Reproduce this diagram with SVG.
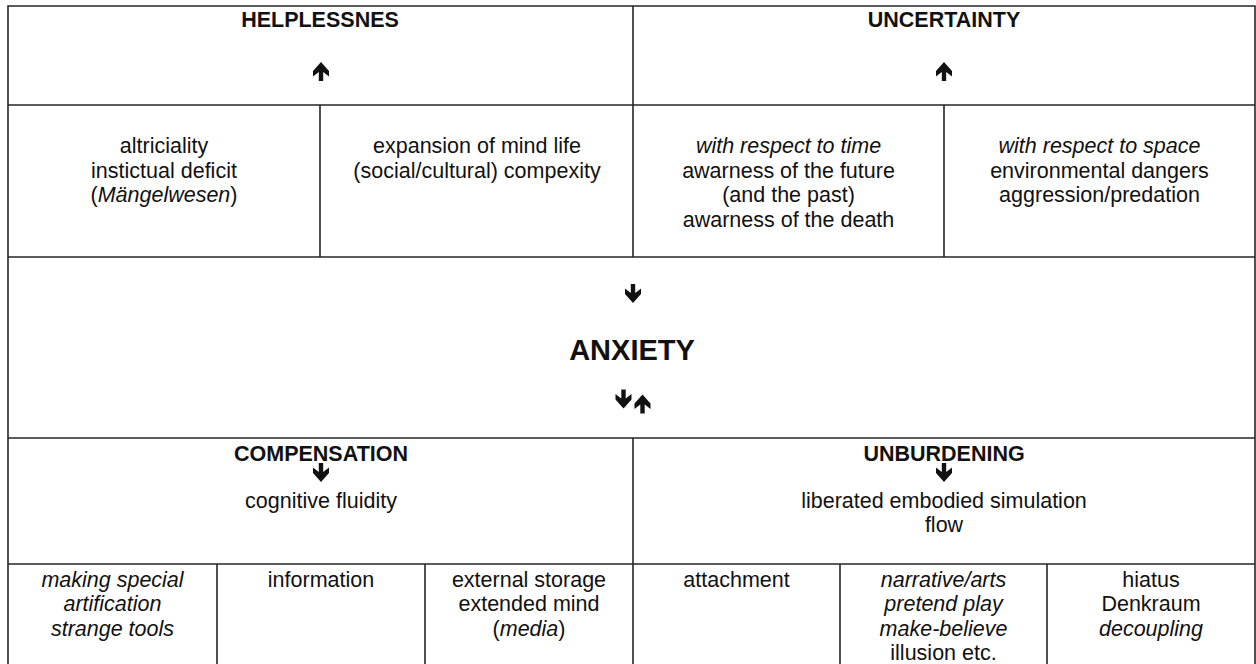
<svg xmlns="http://www.w3.org/2000/svg" width="1256" height="664" viewBox="0 0 1256 664">
<style>
  .ln { stroke: #262626; stroke-width: 1.6; fill: none; }
  text { font-family: "Liberation Sans", Arial, sans-serif; font-size: 21.5px; fill: #111; text-anchor: middle; }
  .b { font-weight: bold; }
  .big { font-weight: bold; font-size: 29px; }
  .i { font-style: italic; }
  .arr { fill: #111; }
</style>
<defs>
  <path id="down" class="arr" d="M -2.2 0 H 2.2 V 9 L 8 4.5 V 10 L 0 19 L -8 10 V 4.5 L -2.2 9 Z"/>
</defs>
<rect width="1256" height="664" fill="#fff"/>

<g id="grid">
  <path class="ln" d="M 8 664 V 6 H 1255 V 664"/>
  <path class="ln" d="M 8 105 H 1255 M 8 257 H 1255 M 8 438 H 1255 M 8 564 H 1255"/>
  <path class="ln" d="M 633 6 V 257 M 320 105 V 257 M 944 105 V 257"/>
  <path class="ln" d="M 633 438 V 664 M 217 564 V 664 M 425 564 V 664 M 840 564 V 664 M 1047 564 V 664"/>
</g>

<g id="helplessnes"><text class="b" x="320" y="27">HELPLESSNES</text></g>
<g id="uncertainty"><text class="b" x="944" y="27">UNCERTAINTY</text></g>

<g id="altriciality">
  <text x="164" y="153">altriciality</text>
  <text x="164" y="177.5">instictual deficit</text>
  <text x="164" y="202">(<tspan class="i">Mängelwesen</tspan>)</text>
</g>
<g id="expansion">
  <text x="477" y="153">expansion of mind life</text>
  <text x="477" y="177.5">(social/cultural) compexity</text>
</g>
<g id="time">
  <text class="i" x="788.5" y="153">with respect to time</text>
  <text x="788.5" y="177.5">awarness of the future</text>
  <text x="788.5" y="202">(and the past)</text>
  <text x="788.5" y="226.5">awarness of the death</text>
</g>
<g id="space">
  <text class="i" x="1099.5" y="153">with respect to space</text>
  <text x="1099.5" y="177.5">environmental dangers</text>
  <text x="1099.5" y="202">aggression/predation</text>
</g>

<g id="anxiety"><text class="big" x="632" y="360">ANXIETY</text></g>

<g id="compensation">
  <text class="b" x="321" y="460.5">COMPENSATION</text>
  <text x="321" y="508">cognitive fluidity</text>
</g>
<g id="unburdening">
  <text class="b" x="944" y="460.5">UNBURDENING</text>
  <text x="944" y="508">liberated embodied simulation</text>
  <text x="944" y="532">flow</text>
</g>

<g id="making-special">
  <text class="i" x="112.5" y="586.5">making special</text>
  <text class="i" x="112.5" y="611">artification</text>
  <text class="i" x="112.5" y="635.5">strange tools</text>
</g>
<g id="information"><text x="321" y="586.5">information</text></g>
<g id="external-storage">
  <text x="529" y="586.5">external storage</text>
  <text x="529" y="611">extended mind</text>
  <text x="529" y="635.5">(<tspan class="i">media</tspan>)</text>
</g>
<g id="attachment"><text x="736.5" y="586.5">attachment</text></g>
<g id="narrative">
  <text class="i" x="943.5" y="586.5">narrative/arts</text>
  <text class="i" x="943.5" y="611">pretend play</text>
  <text class="i" x="943.5" y="635.5">make-believe</text>
  <text x="943.5" y="660">illusion etc.</text>
</g>
<g id="hiatus">
  <text x="1151" y="586.5">hiatus</text>
  <text x="1151" y="611">Denkraum</text>
  <text class="i" x="1151" y="635.5">decoupling</text>
</g>

<g id="connectors">
  <use href="#down" transform="translate(321 81) scale(1 -1)"/>
  <use href="#down" transform="translate(944 81) scale(1 -1)"/>
  <use href="#down" transform="translate(633 284)"/>
  <use href="#down" transform="translate(623.5 389.5)"/>
  <use href="#down" transform="translate(642.5 413.5) scale(1 -1)"/>
  <use href="#down" transform="translate(321 463)"/>
  <use href="#down" transform="translate(944 463)"/>
</g>
</svg>
